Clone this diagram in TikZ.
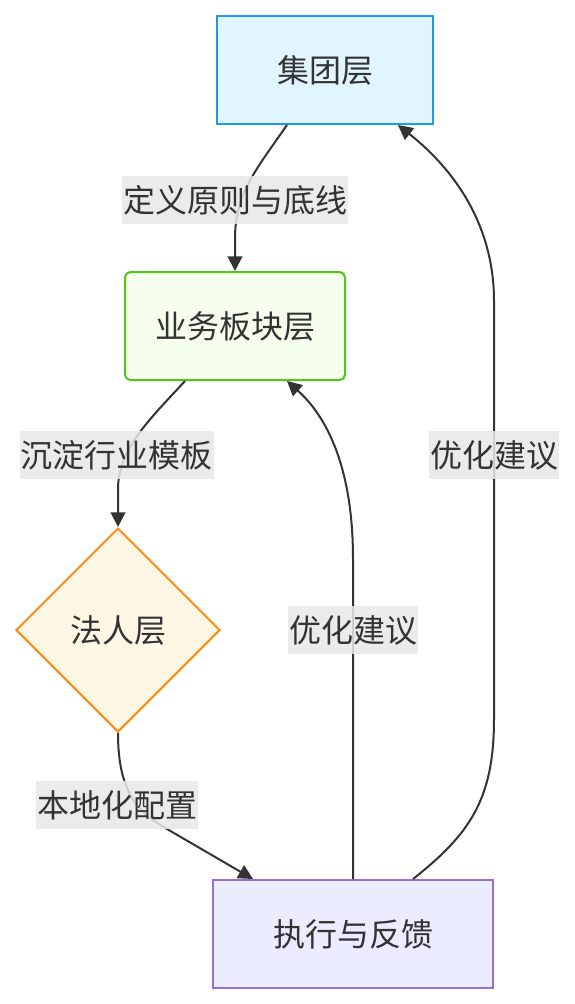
\documentclass[tikz,border=0pt]{standalone}
\usepackage{fontspec}
\newfontfamily\cjk{Noto Sans CJK SC}
\usetikzlibrary{shapes.geometric,arrows.meta,calc}
\definecolor{txt}{HTML}{333333}
\definecolor{gfill}{HTML}{E1F5FE}
\definecolor{gdraw}{HTML}{2196F3}
\definecolor{bfill}{HTML}{F6FFED}
\definecolor{bdraw}{HTML}{52C41A}
\definecolor{ffill}{HTML}{FFF7E6}
\definecolor{fdraw}{HTML}{FA8C16}
\definecolor{efill}{HTML}{ECECFF}
\definecolor{edraw}{HTML}{9370DB}
\definecolor{lbl}{HTML}{E8E8E8}
\begin{document}
\begin{tikzpicture}[x=0.75pt,y=-0.75pt,
  every node/.style={font=\cjk\fontsize{24pt}{28pt}\selectfont, text=txt},
  box/.style={draw, line width=1.5pt, minimum height=81pt, inner sep=0pt},
  conn/.style={draw=txt, line width=1.5pt, -{Triangle[length=11pt,width=11pt]}},
  elabel/.style={fill=lbl, fill opacity=0.85, text opacity=1, inner sep=0.5pt, minimum height=36pt}
]
\useasboundingbox (0,0) rectangle (575,1004);
\fill[white] (0,0) rectangle (575,1004);
\node[box, fill=gfill, draw=gdraw, minimum width=162pt] (g) at (325,70) {集团层};
\node[box, fill=bfill, draw=bdraw, minimum width=165pt, rounded corners=4pt] (b) at (235,326) {业务板块层};
\node[draw=fdraw, fill=ffill, line width=1.5pt, diamond, aspect=1, minimum width=153pt, minimum height=153pt, inner sep=0pt] (f) at (118,630) {法人层};
\node[box, fill=efill, draw=edraw, minimum width=210pt] (e) at (353,934) {执行与反馈};

\draw[conn] ($(g.south)+(-38,0)$) .. controls +(-32,46) and +(0,-45) .. ($(b.north)+(0,-32)$) -- (b.north);
\draw[conn] ($(b.south)+(-50,0)$) .. controls +(-35,38) and +(0,-40) .. ($(f.north)+(0,-38)$) -- (f.north);
\draw[conn] (f.south) .. controls +(0,58) and +(-30,-17) .. ($(e.north)+(-186,-50)$) -- ($(e.north)+(-100,0)$);
\draw[conn] (e.north) -- ($(e.north)+(0,-320)$) .. controls +(0,-110) and +(28,25) .. ($(b.south)+(52,0)$);
\draw[conn] ($(e.north)+(60,0)$) .. controls +(57,-45) and +(0,80) .. ($(e.north)+(141,-160)$) -- ($(g.south)+(169,176)$) .. controls +(0,-80) and +(52,41) .. ($(g.south)+(73,0)$);

\node[elabel] (l1) at (235,200) {定义原则与底线};
\node[elabel] (l2) at (117,455) {沉淀行业模板};
\node[elabel] (l3) at (117,805) {本地化配置};
\node[elabel] (l4) at (353,630) {优化建议};
\node[elabel] (l5) at (494,455) {优化建议};
\end{tikzpicture}
\end{document}
